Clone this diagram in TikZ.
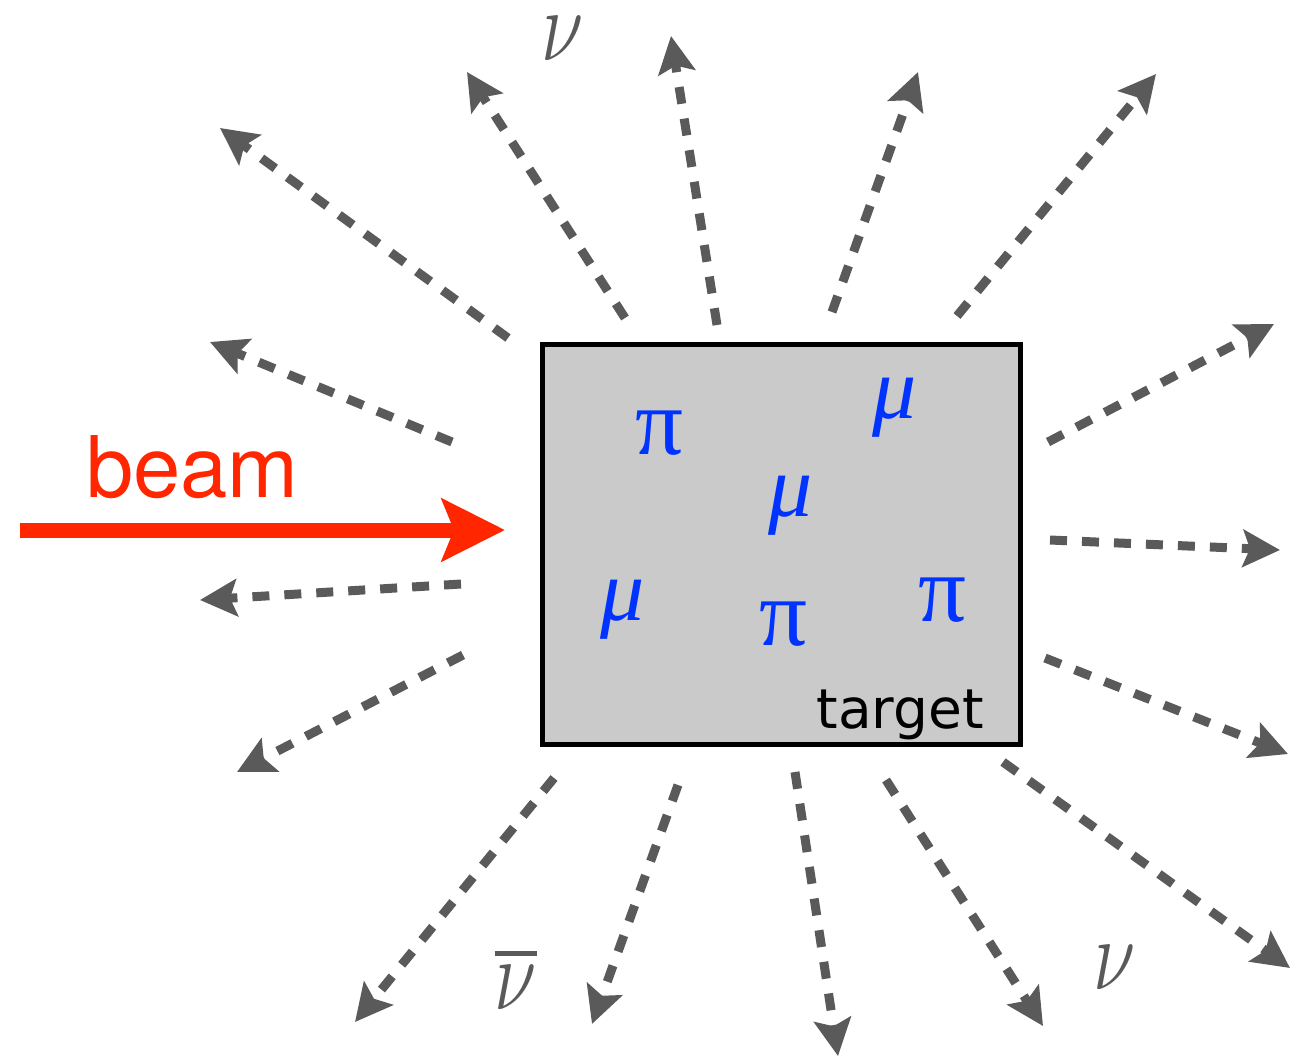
\documentclass[tikz,border=0pt]{standalone}
\usepackage{fontspec}
\usetikzlibrary{arrows.meta}
\newfontfamily\herosf{TeX Gyre Heros}
\newfontfamily\dejavuf{DejaVu Sans}
\newfontfamily\tnrf{Liberation Serif}
\definecolor{raygray}{HTML}{5A5A5A}
\definecolor{boxgray}{HTML}{CACACA}
\definecolor{beamred}{HTML}{FF2600}
\definecolor{partblue}{HTML}{0033FF}
\tikzset{
  ray/.style={draw=raygray, line width=9pt, dash pattern=on 17pt off 15pt,
    -{Stealth[length=37pt,width=37pt,inset=7pt]}},
  beamarrow/.style={draw=beamred, line width=15pt,
    -{Stealth[length=63pt,width=62pt,inset=12pt]}},
  pilabel/.style={inner sep=0pt, text=partblue, font=\tnrf\fontsize{95}{95}\selectfont},
  mulabel/.style={inner sep=0pt, text=partblue, font=\tnrf\itshape\fontsize{88}{90}\selectfont},
  nulabel/.style={inner sep=0pt, text=raygray, font=\fontsize{25}{25}\selectfont, xscale=3.1, yscale=4.1},
}
\begin{document}
\begin{tikzpicture}[x=1pt,y=-1pt]
\useasboundingbox (0,0) rectangle (1299,1058);
% target
\node[draw=black, fill=boxgray, line width=4.5pt, minimum width=478pt, minimum height=400pt,
      inner sep=0pt, anchor=north west] (target) at (540,342) {};
\node[anchor=base east, inner sep=0pt, font=\dejavuf\fontsize{55}{60}\selectfont] (tlabel) at (984,728) {target};
% particles
\node[pilabel] (pi1) at (659,433) {π};
\node[pilabel] (pi2) at (783,624) {π};
\node[pilabel] (pi3) at (942,600) {π};
\node[mulabel] (mu1) at (895,408) {μ};
\node[mulabel] (mu2) at (791,506) {μ};
\node[mulabel] (mu3) at (623,610) {μ};
% neutrino labels
\node[nulabel] (nu1) at (563,39) {$\nu$};
\node[nulabel] (nu2) at (1115,968) {$\nu$};
\node[nulabel] (nubar) at (516,980) {\vbox{\hrule height 1.25pt\kern 2.4pt\hbox{$\nu$}}};
% beam
\coordinate (bstart) at (20,530);
\coordinate (bend) at (505,530);
\draw[beamarrow] (bstart) -- (bend);
\node[anchor=base west, inner sep=0pt, text=beamred, font=\herosf\fontsize{85}{90}\selectfont] (blabel) at (86,497) {beam};
% rays
\foreach \i/\sx/\sy/\tx/\ty in {
  1/508/338/220/128,
  2/625/318/467/72,
  3/717/325/671/36,
  4/832/312/918/72,
  5/957/316/1156/74,
  6/1048/442/1274/324,
  7/1050/540/1280/550,
  8/1045/658/1288/754,
  9/1003/762/1290/968,
  10/886/780/1043/1026,
  11/795/772/838/1056,
  12/678/785/592/1024,
  13/554/778/355/1022,
  14/463/655/237/772,
  15/461/584/200/600,
  16/452/442/210/342}{
  \coordinate (s\i) at (\sx,\sy);
  \coordinate (t\i) at (\tx,\ty);
  \draw[ray] (s\i) -- (t\i);
}
\end{tikzpicture}
\end{document}
